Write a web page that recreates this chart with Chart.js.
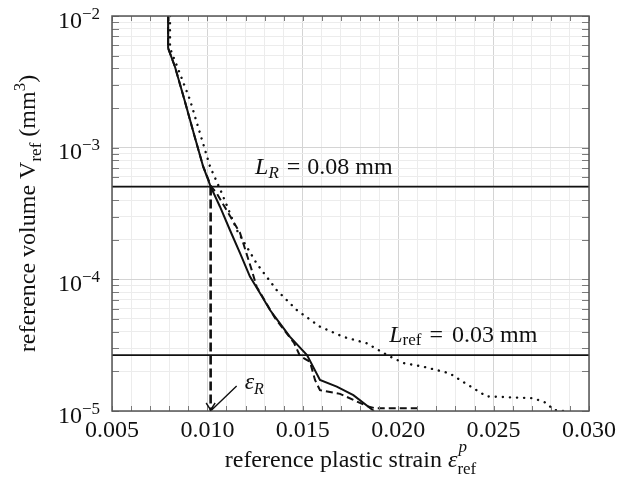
<!DOCTYPE html>
<html>
<head>
<meta charset="utf-8">
<script src="https://cdn.jsdelivr.net/npm/chart.js@4.4.1/dist/chart.umd.min.js"></script>
<style>
  html, body { margin: 0; padding: 0; background: #fff; }
</style>
</head>
<body>
<canvas id="refChart" width="630" height="488"></canvas>
<script>
// ---- data ----
const solidX  = [0.00794, 0.00794, 0.00830, 0.00880, 0.00928, 0.00978, 0.01017, 0.01066, 0.01118, 0.01171, 0.01223, 0.01276, 0.01328, 0.01380, 0.01433, 0.01522, 0.01590, 0.01678, 0.01765, 0.01873];
const solidY  = [1e-2, 5.7e-3, 4.12e-3, 2.30e-3, 1.29e-3, 7.17e-4, 5.06e-4, 3.56e-4, 2.37e-4, 1.58e-4, 1.05e-4, 7.83e-5, 5.85e-5, 4.63e-5, 3.66e-5, 2.66e-5, 1.72e-5, 1.53e-5, 1.32e-5, 1.0e-5];

const dashedX = [0.00794, 0.00794, 0.00830, 0.00880, 0.00928, 0.00978, 0.01020, 0.01049, 0.01171, 0.01232, 0.01258, 0.01354, 0.01454, 0.01485, 0.01538, 0.01564, 0.01590, 0.01695, 0.01836, 0.01878, 0.02114];
const dashedY = [1e-2, 5.7e-3, 4.12e-3, 2.30e-3, 1.29e-3, 7.17e-4, 5.06e-4, 4.5e-4, 2.25e-4, 1.18e-4, 8.8e-5, 5.08e-5, 3.29e-5, 2.62e-5, 2.36e-5, 1.72e-5, 1.44e-5, 1.35e-5, 1.09e-5, 1.05e-5, 1.05e-5];

const dottedX = [0.00804, 0.00804, 0.00842, 0.00909, 0.00961, 0.01014, 0.01075, 0.01154, 0.01258, 0.01363, 0.01468, 0.01590, 0.01712, 0.01835, 0.01950, 0.02030, 0.02132, 0.02271, 0.02324, 0.02464, 0.02708, 0.02778, 0.02813, 0.02865];
const dottedY = [1e-2, 5.7e-3, 4.12e-3, 2.30e-3, 1.29e-3, 7.17e-4, 4.53e-4, 2.37e-4, 1.32e-4, 8.3e-5, 5.85e-5, 4.37e-5, 3.66e-5, 3.27e-5, 2.62e-5, 2.31e-5, 2.17e-5, 1.93e-5, 1.72e-5, 1.29e-5, 1.25e-5, 1.15e-5, 1.02e-5, 1.0e-5];

const LR_VOLUME = 5.06e-4;    // L_R = 0.08 mm
const LREF_VOLUME = 2.66e-5;  // L_ref = 0.03 mm
const EPS_R = 0.01017;

const xMin = 0.005, xMax = 0.030;
const yMin = 1e-5, yMax = 1e-2;
const xTickVals = [0.005, 0.006, 0.007, 0.008, 0.009, 0.010, 0.011, 0.012, 0.013, 0.014, 0.015, 0.016, 0.017, 0.018, 0.019, 0.020, 0.021, 0.022, 0.023, 0.024, 0.025, 0.026, 0.027, 0.028, 0.029, 0.030];
const xTickLabels = ['0.005', '0.010', '0.015', '0.020', '0.025', '0.030'];
const yDecades = [1e-5, 1e-4, 1e-3, 1e-2];
const yDecadeExp = ['\u22125', '\u22124', '\u22123', '\u22122'];
const yMantissas = [1, 2, 3, 4, 5, 6, 7, 8, 9];

// ---- helpers ----
const SERIF = '"Liberation Serif", serif';
const INK = '#111';

function toPoints(xs, ys) {
    return xs.map((x, i) => ({ x: x, y: ys[i] }));
}

function fontOf(p) {
    return (p.italic ? 'italic ' : '') + (p.size || 24) + 'px ' + SERIF;
}

function partWidth(ctx, p) {
    if (p.stack) return Math.max(...p.stack.map(q => partWidth(ctx, q)));
    ctx.font = fontOf(p);
    return ctx.measureText(p.t).width + (p.before || 0) + (p.after || 0);
}

// draws a run of text pieces (sub/superscripts via dy, stacked via stack)
function drawRich(ctx, parts, x, y, align) {
    const total = parts.reduce((s, p) => s + partWidth(ctx, p), 0);
    let cx = align === 'center' ? x - total / 2 : (align === 'right' ? x - total : x);
    ctx.textAlign = 'left';
    ctx.textBaseline = 'alphabetic';
    parts.forEach(p => {
        const w = partWidth(ctx, p);
        (p.stack || [p]).forEach(q => {
            ctx.font = fontOf(q);
            ctx.fillText(q.t, cx + (q.before || 0) + (q.dx || 0), y + (q.dy || 0));
        });
        cx += w;
    });
}

function isMajorX(v) {
    return Math.round(v * 1000) % 5 === 0;
}

function isDecade(v) {
    const e = Math.log10(v);
    return Math.abs(e - Math.round(e)) < 1e-6;
}

// ---- plugin: frame, inward ticks, labels, annotations ----
const decorPlugin = {
    id: 'decor',
    afterDatasetsDraw(chart) {
        const { ctx, chartArea: a } = chart;
        const xs = chart.scales.x, ys = chart.scales.y;
        ctx.save();

        // inward tick marks
        ctx.strokeStyle = '#7a7a7a';
        ctx.lineWidth = 1;
        ctx.beginPath();
        xs.ticks.forEach(t => {
            const px = Math.round(xs.getPixelForValue(t.value)) + 0.5;
            ctx.moveTo(px, a.bottom); ctx.lineTo(px, a.bottom - 5);
            ctx.moveTo(px, a.top); ctx.lineTo(px, a.top + 5);
        });
        ys.ticks.forEach(t => {
            const py = Math.round(ys.getPixelForValue(t.value)) + 0.5;
            ctx.moveTo(a.left, py); ctx.lineTo(a.left + 7, py);
            ctx.moveTo(a.right, py); ctx.lineTo(a.right - 7, py);
        });
        ctx.stroke();

        // frame
        ctx.strokeStyle = '#555';
        ctx.lineWidth = 1.5;
        ctx.strokeRect(a.left, a.top, a.right - a.left, a.bottom - a.top);

        // arrow at bottom of the eps_R line, and pointer from the label
        const ex = xs.getPixelForValue(EPS_R);
        const eb = ys.getPixelForValue(yMin);
        ctx.strokeStyle = INK;
        ctx.lineWidth = 1.4;
        ctx.beginPath();
        ctx.moveTo(ex - 4.5, eb - 8); ctx.lineTo(ex, eb - 1); ctx.lineTo(ex + 4.5, eb - 8);
        ctx.moveTo(ex + 26, eb - 25); ctx.lineTo(ex + 1, eb - 1);
        ctx.stroke();

        ctx.fillStyle = INK;
        drawRich(ctx, [
            { t: '\u03b5', italic: true, size: 24 },
            { t: 'R', italic: true, size: 16, dy: 5 }
        ], ex + 34, eb - 22, 'left');

        // line labels
        drawRich(ctx, [
            { t: 'L', italic: true },
            { t: 'R', italic: true, size: 17, dy: 4 },
            { t: '=', before: 8, after: 7 },
            { t: '0.08 mm' }
        ], xs.getPixelForValue(0.0125), ys.getPixelForValue(LR_VOLUME) - 13, 'left');

        drawRich(ctx, [
            { t: 'L', italic: true },
            { t: 'ref', size: 17, dy: 3 },
            { t: '=', before: 8, after: 9 },
            { t: '0.03 mm' }
        ], xs.getPixelForValue(0.01953), ys.getPixelForValue(LREF_VOLUME) - 13, 'left');

        // y tick labels 10^n
        yDecades.forEach((v, i) => {
            const py = ys.getPixelForValue(v);
            drawRich(ctx, [
                { t: '10' },
                { t: yDecadeExp[i], size: 17, dy: -9 }
            ], a.left - 12, py + 11.5, 'right');
        });

        // x axis title
        drawRich(ctx, [
            { t: 'reference plastic strain ' },
            { t: '\u03b5', italic: true },
            { stack: [
                { t: 'p', italic: true, size: 17, dy: -15, dx: 1 },
                { t: 'ref', size: 17, dy: 7 }
            ] }
        ], (a.left + a.right) / 2, 467, 'center');

        // y axis title (rotated)
        ctx.translate(35, (a.top + a.bottom) / 2);
        ctx.rotate(-Math.PI / 2);
        drawRich(ctx, [
            { t: 'reference volume V' },
            { t: 'ref', size: 17, dy: 6 },
            { t: ' (mm' },
            { t: '3', size: 17, dy: -10 },
            { t: ')' }
        ], 0, 0, 'center');

        ctx.restore();
    }
};

// ---- chart ----
function buildChart() {
    const ctx = document.getElementById('refChart').getContext('2d');
    new Chart(ctx, {
        type: 'line',
        data: {
            datasets: [
                { label: 'solid', data: toPoints(solidX, solidY), borderColor: INK, borderWidth: 2 },
                { label: 'dashed', data: toPoints(dashedX, dashedY), borderColor: INK, borderWidth: 2, borderDash: [7, 4] },
                { label: 'dotted', data: toPoints(dottedX, dottedY), borderColor: INK, borderWidth: 2.4, borderDash: [0.1, 7], borderCapStyle: 'round' },
                { label: 'L_R', data: [{ x: xMin, y: LR_VOLUME }, { x: xMax, y: LR_VOLUME }], borderColor: INK, borderWidth: 1.8 },
                { label: 'L_ref', data: [{ x: xMin, y: LREF_VOLUME }, { x: xMax, y: LREF_VOLUME }], borderColor: INK, borderWidth: 1.8 },
                { label: 'eps_R', data: [{ x: EPS_R, y: LR_VOLUME }, { x: EPS_R, y: yMin }], borderColor: INK, borderWidth: 2.6, borderDash: [9, 4] }
            ]
        },
        options: {
            responsive: false,
            animation: false,
            events: [],
            layout: { padding: { left: 0, right: 41, top: 16, bottom: 0 } },
            elements: { point: { radius: 0 }, line: { tension: 0, fill: false } },
            plugins: { legend: { display: false }, tooltip: { enabled: false } },
            scales: {
                x: {
                    type: 'linear',
                    min: xMin,
                    max: xMax,
                    afterBuildTicks: s => { s.ticks = xTickVals.map(v => ({ value: v })); },
                    afterFit: s => { s.height = 77; },
                    border: { display: false },
                    grid: {
                        drawTicks: false,
                        color: c => (c.tick && isMajorX(c.tick.value)) ? '#d4d4d4' : '#ececec',
                        lineWidth: 1
                    },
                    ticks: {
                        autoSkip: false,
                        maxRotation: 0,
                        padding: 5,
                        color: INK,
                        font: { family: SERIF, size: 24 },
                        callback: v => {
                            const lbl = v.toFixed(3);
                            return isMajorX(v) && xTickLabels.includes(lbl) ? lbl : '';
                        }
                    }
                },
                y: {
                    type: 'logarithmic',
                    min: yMin,
                    max: yMax,
                    afterBuildTicks: s => {
                        const vals = [];
                        yDecades.slice(0, -1).forEach(d => yMantissas.forEach(m => vals.push(m * d)));
                        vals.push(yMax);
                        s.ticks = vals.map(v => ({ value: v }));
                    },
                    afterFit: s => { s.width = 112; },
                    border: { display: false },
                    grid: {
                        drawTicks: false,
                        color: c => (c.tick && isDecade(c.tick.value)) ? '#d4d4d4' : '#ececec',
                        lineWidth: 1
                    },
                    ticks: { display: false }
                }
            }
        },
        plugins: [decorPlugin]
    });
}

Promise.all([
    document.fonts.load('24px "Liberation Serif"'),
    document.fonts.load('italic 24px "Liberation Serif"')
]).catch(() => {}).then(buildChart);
</script>
</body>
</html>
